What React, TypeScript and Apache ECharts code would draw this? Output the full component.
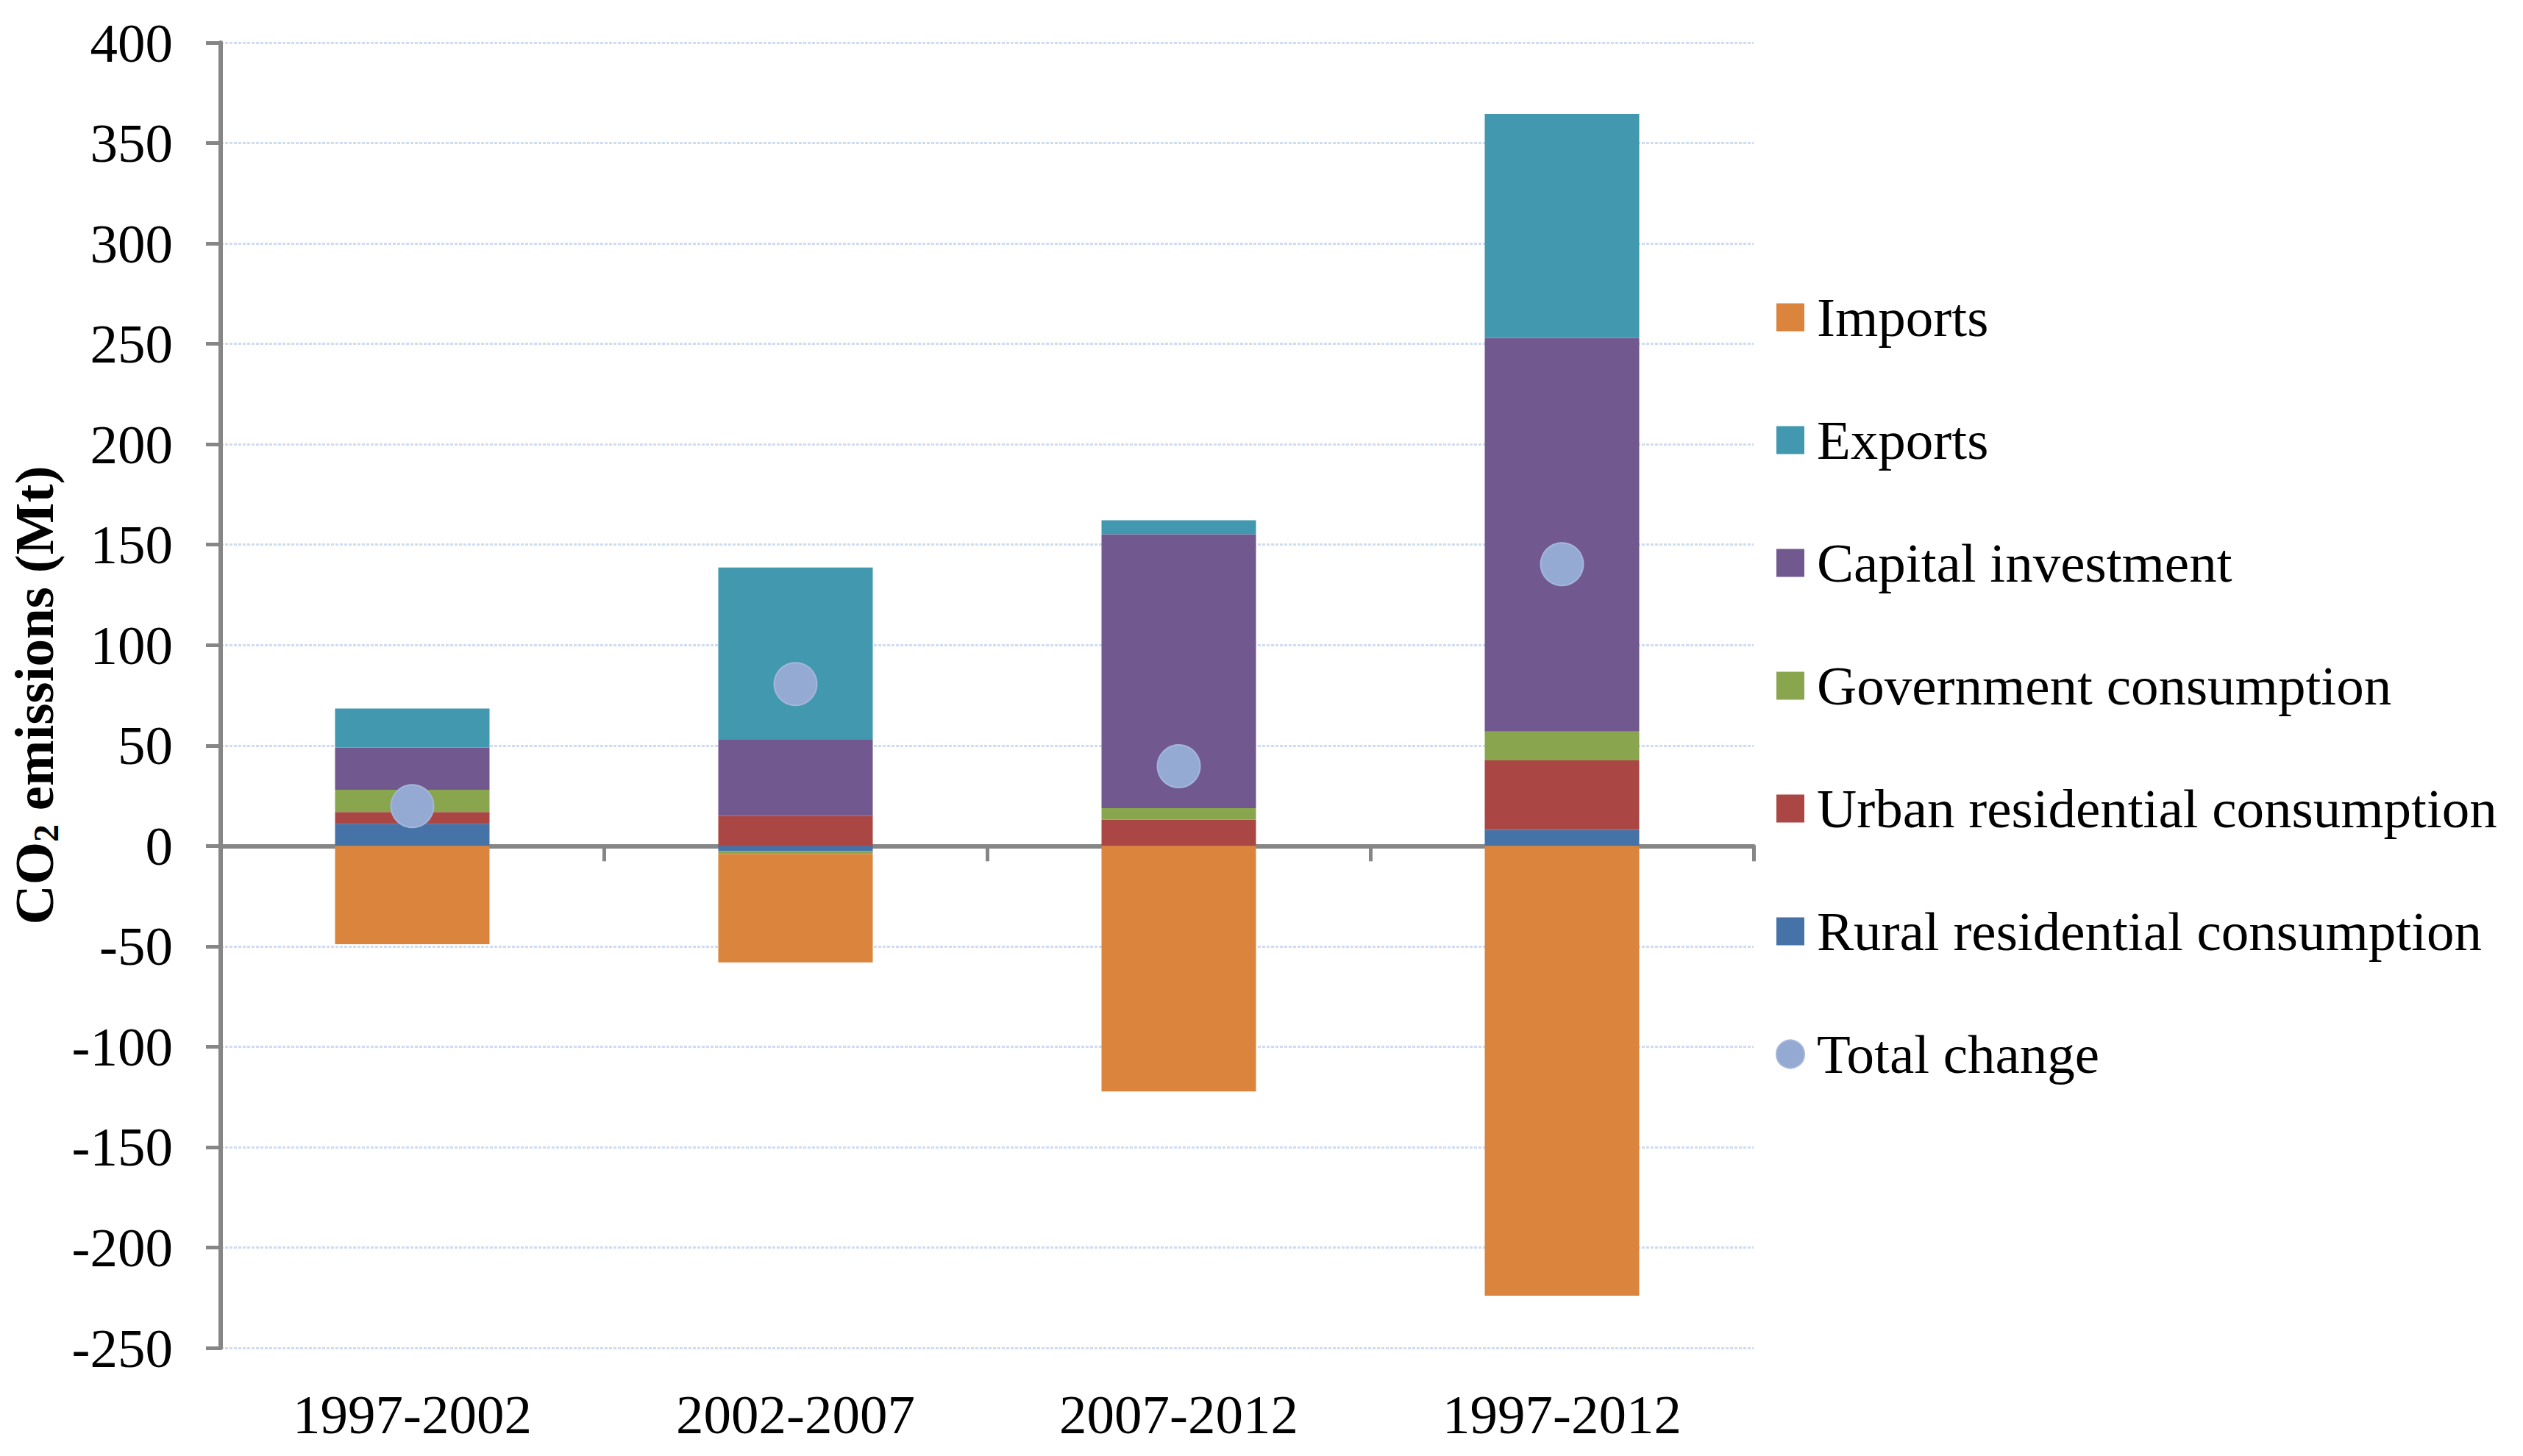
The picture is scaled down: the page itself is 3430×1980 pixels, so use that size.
import { useEffect, useRef } from 'react';
import * as echarts from 'echarts';

// Periods on the category axis
const PERIODS = ['1997-2002', '2002-2007', '2007-2012', '1997-2012'];

// Stacked contributions (Mt CO2)
const RURAL = [11, -2.5, 0, 8];
const URBAN = [5.9, 14.9, 13.1, 34.6];
const GOVERNMENT = [11, -1.5, 5.7, 14.4];
const CAPITAL = [21, 37.9, 136.4, 196];
const EXPORTS = [19.5, 85.8, 7, 111.5];
const IMPORTS = [-49, -54, -122.3, -224];
const TOTAL = [19.8, 80.6, 39.7, 140.3];

const LEGEND_ORDER = [
  'Imports',
  'Exports',
  'Capital investment',
  'Government consumption',
  'Urban residential consumption',
  'Rural residential consumption',
  'Total change',
];

const COLORS = {
  rural: '#4572a7',
  urban: '#aa4643',
  government: '#89a54e',
  capital: '#71588f',
  exports: '#4198af',
  imports: '#db843d',
  total: '#94aad2',
  axis: '#868686',
  grid: '#cfdcf1',
};

const FONT = "'Liberation Serif', 'Times New Roman', serif";

export default function App() {
  const ref = useRef<HTMLDivElement>(null);

  useEffect(() => {
    if (!ref.current) return;
    const chart = echarts.init(ref.current, null, { renderer: 'svg' });

    const bar = (name: string, data: number[], color: string) => ({
      name,
      type: 'bar' as const,
      stack: 'total',
      xAxisIndex: 0,
      barWidth: 210,
      data,
      itemStyle: { color },
    });

    chart.setOption({
      animation: false,
      backgroundColor: '#ffffff',
      textStyle: { fontFamily: FONT },
      grid: { left: 300, right: 1046, top: 58, bottom: 147, outerBoundsMode: 'none' },
      legend: {
        orient: 'vertical',
        left: 2414,
        top: 394,
        padding: 0,
        itemWidth: 38,
        itemHeight: 38,
        itemGap: 92,
        selectedMode: false,
        textStyle: { fontFamily: FONT, fontSize: 75, lineHeight: 75, color: '#000', padding: [0, 0, 0, 12] },
        data: LEGEND_ORDER.map((name) => ({ name, icon: name === 'Total change' ? 'circle' : 'rect' })),
      },
      xAxis: [
        {
          type: 'category',
          position: 'bottom',
          data: PERIODS,
          axisLine: { show: false, onZero: false },
          axisTick: { show: false },
          axisLabel: { margin: 53, fontFamily: FONT, fontSize: 75, lineHeight: 75, color: '#000' },
        },
        {
          // zero line with boundary ticks
          type: 'category',
          position: 'bottom',
          data: PERIODS,
          axisLine: { show: true, onZero: true, lineStyle: { color: COLORS.axis, width: 6 } },
          axisTick: { show: true, length: 21, lineStyle: { color: COLORS.axis, width: 5 } },
          axisLabel: { show: false },
        },
      ],
      yAxis: {
        type: 'value',
        min: -250,
        max: 400,
        interval: 50,
        name: '{a|CO}{b|2}{a| emissions (Mt)}',
        nameLocation: 'middle',
        nameGap: 205,
        nameTextStyle: {
          fontFamily: FONT,
          fontWeight: 'bold',
          fontSize: 75,
          color: '#000',
          rich: {
            a: { fontFamily: FONT, fontWeight: 'bold', fontSize: 75, lineHeight: 80, color: '#000' },
            b: { fontFamily: FONT, fontWeight: 'bold', fontSize: 48, lineHeight: 48, padding: [32, 0, 0, 0], color: '#000' },
          },
        },
        axisLine: { show: true, lineStyle: { color: COLORS.axis, width: 6 } },
        axisTick: { show: true, length: 20, lineStyle: { color: COLORS.axis, width: 5 } },
        axisLabel: { margin: 65, fontFamily: FONT, fontSize: 75, color: '#000' },
        splitLine: { show: true, lineStyle: { color: COLORS.grid, width: 3, type: [4, 2] } },
      },
      series: [
        bar('Rural residential consumption', RURAL, COLORS.rural),
        bar('Urban residential consumption', URBAN, COLORS.urban),
        bar('Government consumption', GOVERNMENT, COLORS.government),
        bar('Capital investment', CAPITAL, COLORS.capital),
        bar('Exports', EXPORTS, COLORS.exports),
        bar('Imports', IMPORTS, COLORS.imports),
        {
          name: 'Total change',
          type: 'scatter',
          xAxisIndex: 0,
          symbol: 'circle',
          symbolSize: 58,
          z: 10,
          data: TOTAL,
          itemStyle: { color: COLORS.total, borderColor: '#a3b6da', borderWidth: 2, opacity: 1 },
        },
      ],
    });

    return () => chart.dispose();
  }, []);

  return (
    <div
      ref={ref}
      style={{ position: 'fixed', left: 0, top: 0, width: 3430, height: 1980, background: '#fff' }}
    />
  );
}
